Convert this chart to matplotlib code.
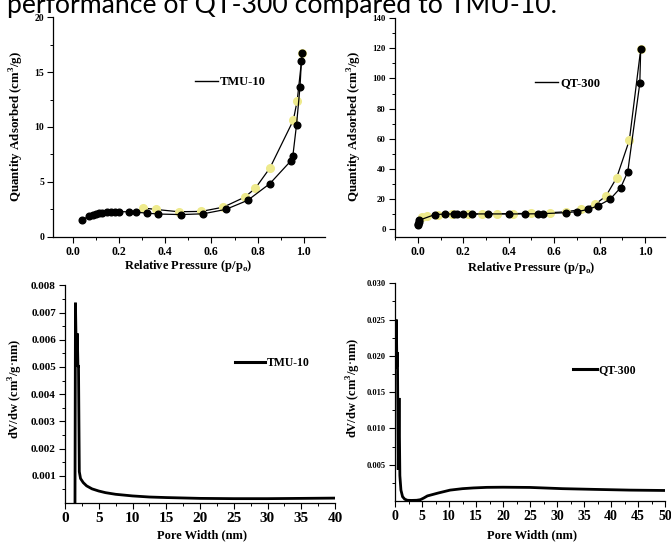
import matplotlib
matplotlib.use("Agg")
import matplotlib.pyplot as plt
from matplotlib.lines import Line2D
from matplotlib.ticker import MultipleLocator, FormatStrFormatter, FixedLocator

# --- N2 isotherm, TMU-10 ---
tmu_ads_p = [0.040, 0.072, 0.088, 0.101, 0.113, 0.129, 0.151, 0.168, 0.184, 0.203,
             0.242, 0.275, 0.321, 0.371, 0.468, 0.564, 0.662, 0.757, 0.853, 0.943,
             0.952, 0.968, 0.983, 0.989, 0.993]
tmu_ads_q = [1.55, 1.83, 1.95, 2.02, 2.10, 2.17, 2.22, 2.25, 2.27, 2.27,
             2.25, 2.22, 2.13, 2.05, 2.00, 2.07, 2.47, 3.30, 4.83, 6.89,
             7.34, 10.2, 13.65, 16.0, 16.7]
tmu_des_p = [0.993, 0.971, 0.954, 0.853, 0.790, 0.745, 0.652, 0.557, 0.458, 0.360, 0.305]
tmu_des_q = [16.7, 12.4, 10.6, 6.25, 4.40, 3.60, 2.68, 2.29, 2.26, 2.47, 2.60]

# --- N2 isotherm, QT-300 ---
qt_ads_p = [0.001, 0.002, 0.003, 0.005, 0.075, 0.12, 0.16, 0.17, 0.20, 0.24, 0.31,
            0.40, 0.47, 0.53, 0.55, 0.65, 0.70, 0.75, 0.794, 0.846, 0.893, 0.924,
            0.977, 0.981]
qt_ads_q = [2.7, 3.6, 4.6, 5.8, 9.6, 9.9, 10.0, 10.0, 10.0, 10.0, 10.0,
            10.0, 10.0, 10.1, 10.2, 10.8, 11.5, 13.0, 15.5, 19.7, 27.5, 38.0,
            96.8, 119.4]
qt_des_p = [0.981, 0.931, 0.875, 0.828, 0.78, 0.72, 0.65, 0.58, 0.50, 0.42, 0.35,
            0.28, 0.22, 0.15, 0.09, 0.04, 0.02]
qt_des_q = [119.4, 59.0, 34.0, 21.9, 16.3, 13.0, 11.4, 10.8, 10.4, 10.2, 10.1,
            10.0, 9.9, 9.8, 9.5, 8.6, 7.8]

# --- Pore size distributions ---
tmu_w = [1.48, 1.55, 1.70, 1.82, 1.92, 2.00, 2.12, 2.30, 2.70, 3.20, 4.0, 5.0, 6.0,
         7.5, 10.0, 12.5, 15.0, 20.0, 25.0, 30.0, 35.0, 40.0]
tmu_dv = [0.0, 0.00736, 0.0050, 0.00623, 0.0050, 0.00507, 0.00115, 0.00090, 0.00075,
          0.00063, 0.00052, 0.00044, 0.00038, 0.00032, 0.00026, 0.00022, 0.00020,
          0.00017, 0.00016, 0.00016, 0.00017, 0.00018]
qt_w = [0.19, 0.25, 0.35, 0.45, 0.60, 0.75, 0.90, 1.10, 1.40, 1.80, 2.30, 3.0, 4.0,
        4.7, 5.3, 6.0, 7.0, 8.0, 10.2, 12.5, 14.5, 17.0, 20.0, 25.0, 31.0, 37.0,
        43.5, 50.0]
qt_dv = [0.0184, 0.0250, 0.0185, 0.0205, 0.0043, 0.0142, 0.0035, 0.0015, 0.0006,
         0.00025, 0.00010, 0.00008, 0.00010, 0.00018, 0.00040, 0.00070, 0.00090,
         0.00110, 0.00150, 0.00170, 0.00180, 0.00188, 0.00190, 0.00187, 0.00170,
         0.00160, 0.00150, 0.00145]

caption = "performance of QT-300 compared to TMU-10."
iso_xlabel = r"Relative Pressure (p/p$_\mathregular{o}$)"
iso_ylabel = r"Quantity Adsorbed (cm$^\mathregular{3}$/g)"
psd_xlabel = "Pore Width (nm)"
psd_ylabel = r"dV/dw (cm$^\mathregular{3}$/g$\cdot$nm)"

W, H = 671, 542
SERIF = "Liberation Serif"
YELLOW = "#eeea8c"

fig = plt.figure(figsize=(W / 100, H / 100), dpi=100)
fig.patch.set_facecolor("white")


def px_axes(left, right, top, bottom):
    return fig.add_axes([left / W, 1 - bottom / H, (right - left) / W, (bottom - top) / H])


def style(ax, xfs, yfs):
    for s in ("top", "right"):
        ax.spines[s].set_visible(False)
    for s in ("left", "bottom"):
        ax.spines[s].set_linewidth(0.9)
    ax.tick_params(which="major", direction="out", length=4, width=0.8, pad=2.5)
    ax.tick_params(which="minor", direction="out", length=2, width=0.7)
    for lab in ax.get_xticklabels():
        lab.set_fontfamily(SERIF); lab.set_fontweight("bold"); lab.set_fontsize(xfs)
    for lab in ax.get_yticklabels():
        lab.set_fontfamily(SERIF); lab.set_fontweight("bold"); lab.set_fontsize(yfs)


def legend(ax, label, x, y, lw, fs, hl):
    h = Line2D([], [], color="black", lw=lw)
    ax.legend([h], [label], loc="center left", bbox_to_anchor=(x, y), frameon=False,
              borderpad=0, borderaxespad=0, handlelength=hl, handletextpad=0.15,
              prop={"family": SERIF, "weight": "bold", "size": fs})


def labels(ax, xl, yl, xlc, ylc, xfs, yfs):
    ax.set_xlabel(xl, fontfamily=SERIF, fontweight="bold", fontsize=xfs)
    ax.set_ylabel(yl, fontfamily=SERIF, fontweight="bold", fontsize=yfs)
    ax.xaxis.set_label_coords(*xlc)
    ax.yaxis.set_label_coords(*ylc)


# Top-left: TMU-10 isotherm
ax1 = px_axes(53.3, 325, 17.3, 236.5)
ax1.plot(tmu_des_p, tmu_des_q, color="black", lw=0.9, marker="o", ms=5.5,
         mfc=YELLOW, mec=YELLOW, zorder=2)
ax1.plot(tmu_ads_p, tmu_ads_q, color="black", lw=0.9, marker="o", ms=4.8,
         mfc="black", mec="black", zorder=3)
ax1.set_xlim(-0.083, 1.091)
ax1.set_ylim(0, 20)
ax1.xaxis.set_major_locator(FixedLocator([0.0, 0.2, 0.4, 0.6, 0.8, 1.0]))
ax1.xaxis.set_minor_locator(FixedLocator([-0.1, 0.1, 0.3, 0.5, 0.7, 0.9]))
ax1.xaxis.set_major_formatter(FormatStrFormatter("%.1f"))
ax1.yaxis.set_major_locator(MultipleLocator(5))
ax1.yaxis.set_minor_locator(MultipleLocator(2.5))
style(ax1, 8.5, 7)
labels(ax1, iso_xlabel, iso_ylabel, (0.496, -0.098), (-0.10, 0.5), 9, 9.3)
legend(ax1, "TMU-10", 0.52, 0.705, 1.0, 9, 1.85)

# Top-right: QT-300 isotherm
ax2 = px_axes(395, 665, 18.3, 236.5)
ax2.plot(qt_des_p, qt_des_q, color="black", lw=0.9, marker="o", ms=5.5,
         mfc=YELLOW, mec=YELLOW, zorder=2)
ax2.plot(qt_ads_p, qt_ads_q, color="black", lw=0.9, marker="o", ms=4.8,
         mfc="black", mec="black", zorder=3)
ax2.set_xlim(-0.101, 1.088)
ax2.set_ylim(-5, 140)
ax2.xaxis.set_major_locator(FixedLocator([0.0, 0.2, 0.4, 0.6, 0.8, 1.0]))
ax2.xaxis.set_minor_locator(FixedLocator([-0.1, 0.1, 0.3, 0.5, 0.7, 0.9]))
ax2.xaxis.set_major_formatter(FormatStrFormatter("%.1f"))
ax2.yaxis.set_major_locator(MultipleLocator(20))
ax2.yaxis.set_minor_locator(MultipleLocator(10))
style(ax2, 8.5, 6.3)
labels(ax2, iso_xlabel, iso_ylabel, (0.504, -0.108), (-0.115, 0.503), 9, 9.3)
legend(ax2, "QT-300", 0.5185, 0.7035, 1.0, 9, 1.85)

# Bottom-left: TMU-10 pore size distribution
ax3 = px_axes(65, 335, 285.3, 503)
ax3.plot(tmu_w, tmu_dv, color="black", lw=2.0, solid_joinstyle="miter")
ax3.set_xlim(0, 40)
ax3.set_ylim(0, 0.008)
ax3.xaxis.set_major_locator(MultipleLocator(5))
ax3.xaxis.set_minor_locator(MultipleLocator(2.5))
ax3.yaxis.set_major_locator(FixedLocator([0.001 * i for i in range(1, 9)]))
ax3.yaxis.set_minor_locator(FixedLocator([0.0005 + 0.001 * i for i in range(8)]))
ax3.yaxis.set_major_formatter(FormatStrFormatter("%.3f"))
style(ax3, 11, 8)
labels(ax3, psd_xlabel, psd_ylabel, (0.506, -0.122), (-0.148, 0.524), 9, 9)
legend(ax3, "TMU-10", 0.63, 0.642, 2.2, 8.5, 2.5)

# Bottom-right: QT-300 pore size distribution
ax4 = px_axes(395, 665, 283.3, 501)
ax4.plot(qt_w, qt_dv, color="black", lw=2.0, solid_joinstyle="miter")
ax4.set_xlim(0, 50)
ax4.set_ylim(0, 0.030)
ax4.xaxis.set_major_locator(MultipleLocator(5))
ax4.xaxis.set_minor_locator(MultipleLocator(2.5))
ax4.yaxis.set_major_locator(FixedLocator([0.005 * i for i in range(1, 7)]))
ax4.yaxis.set_minor_locator(FixedLocator([0.0025 + 0.005 * i for i in range(6)]))
ax4.yaxis.set_major_formatter(FormatStrFormatter("%.3f"))
style(ax4, 10, 6)
labels(ax4, psd_xlabel, psd_ylabel, (0.506, -0.13), (-0.119, 0.52), 9, 9)
legend(ax4, "QT-300", 0.66, 0.602, 2.2, 8.5, 2.0)

# Caption line running off the top edge
fig.text(7 / W, 1 - 13.5 / H, caption, fontfamily="Lato", fontsize=19.2,
         va="baseline", ha="left", color="black")

fig.savefig("out.png", dpi=100)
